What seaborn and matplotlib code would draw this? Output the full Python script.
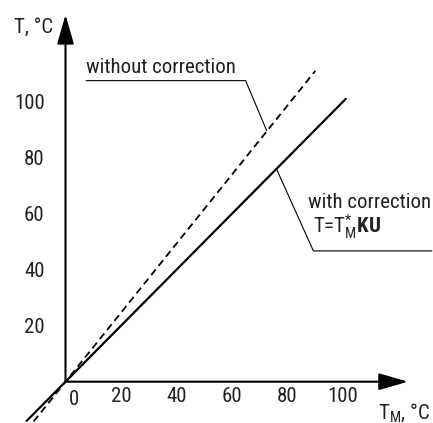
import numpy as np
import pandas as pd
import matplotlib
matplotlib.use('Agg')
import matplotlib.pyplot as plt
import seaborn as sns

# measured values (T_M vs T)
tm_corr = [-14, 101]
t_corr = [-14, 101]
tm_raw = [-11.5, 90]
t_raw = [-14.2, 111]

x_ticks = [10, 20, 30, 40, 50, 60, 70, 80, 90, 100]
x_labels = ['', '20', '', '40', '', '60', '', '80', '', '100']
y_ticks = [10, 20, 30, 40, 50, 60, 70, 80, 90, 100, 110]
y_labels = ['', '20', '', '40', '', '60', '', '80', '', '100', '']

# leader lines for the two callouts
lead_raw_x = [7.4, 64.9, 72.5]
lead_raw_y = [107.5, 107.5, 89.6]
lead_corr_x = [76, 89.3, 132]
lead_corr_y = [76, 46.7, 46.7]

FONT = 'Roboto Condensed'
sns.set_style('white')
plt.rcParams['font.family'] = [FONT, 'DejaVu Sans']
plt.rcParams['mathtext.fontset'] = 'custom'
plt.rcParams['mathtext.rm'] = FONT
plt.rcParams['mathtext.it'] = FONT
plt.rcParams['mathtext.bf'] = FONT + ':bold'

fig = plt.figure(figsize=(4.33, 4.23), dpi=100)
ax = fig.add_axes([0, 0, 1, 1])
ax.set_xlim(-23.6, 132.4)
ax.set_ylim(-14.75, 136.3)

for s in ax.spines.values():
    s.set_visible(False)
ax.spines['left'].set_position(('data', 0))
ax.spines['bottom'].set_position(('data', 0))

ax.set_xticks(x_ticks, x_labels)
ax.set_yticks(y_ticks, y_labels)
ax.tick_params(axis='both', direction='in', length=4, width=1, color='#222222',
               labelsize=15, labelcolor='#222222')
ax.tick_params(axis='x', pad=4)
ax.tick_params(axis='y', pad=15)

# axes with arrow heads
arrow = dict(arrowstyle='-|>,head_length=0.9,head_width=0.26', mutation_scale=20,
             color='black', lw=1.5, shrinkA=0, shrinkB=0)
ax.annotate('', xy=(123.4, 0), xytext=(0, 0), arrowprops=arrow)
ax.annotate('', xy=(0, 131), xytext=(0, 0), arrowprops=arrow)

sns.lineplot(x=tm_corr, y=t_corr, ax=ax, color='black', lw=1.6)
sns.lineplot(x=tm_raw, y=t_raw, ax=ax, color='black', lw=1.3, linestyle=(0, (4, 2.5)))

ax.plot(lead_raw_x, lead_raw_y, color='black', lw=0.8)
ax.plot(lead_corr_x, lead_corr_y, color='black', lw=0.8)

ax.text(7.4, 110.3, 'without correction', fontsize=15, color='#222222', va='baseline', ha='left')
ax.text(87.4, 62, 'with correction', fontsize=15, color='#222222', va='baseline', ha='left')
ax.text(89.2, 53.1, r'T=T$_{\mathrm{M}}^{*}$$\mathbf{KU}$', fontsize=15, color='#222222',
        va='baseline', ha='left')

ax.annotate('0', xy=(0, 0), xytext=(6, -6), textcoords='offset points',
            fontsize=15, color='#222222', ha='center', va='top')
ax.annotate('T, °C', xy=(0, 131), xytext=(-9, -9), textcoords='offset points',
            fontsize=15, color='#222222', ha='right', va='center')
ax.annotate(r'T$_{\mathrm{M}}$, °C', xy=(131.3, 0), xytext=(0, -14), textcoords='offset points',
            fontsize=15, color='#222222', ha='right', va='top')

fig.savefig('out.png', dpi=100)
